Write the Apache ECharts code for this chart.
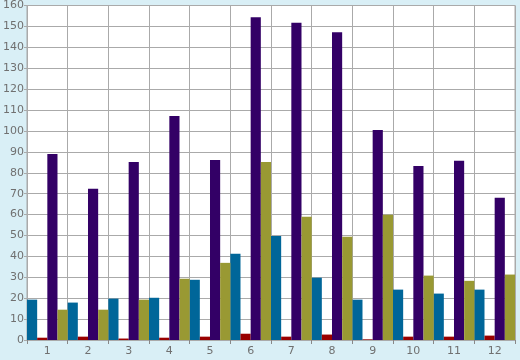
<!DOCTYPE html>
<html>
<head>
<meta charset="utf-8">
<script src="https://cdn.jsdelivr.net/npm/echarts@6/dist/echarts.min.js"></script>
<style>
html,body{margin:0;padding:0;background:#d9eff6;}
#c{width:520px;height:360px;}
</style>
</head>
<body>
<div id="c"></div>
<script>
var categories = ['1','2','3','4','5','6','7','8','9','10','11','12'];
var seriesBlue   = [19.3, 17.9, 19.8, 20.2, 28.8, 41.2, 49.8, 29.8, 19.3, 24.1, 22.2, 24.1];
var seriesRed    = [1.1, 1.6, 0.7, 1.1, 1.6, 3.0, 1.6, 2.6, 0.3, 1.6, 1.6, 2.1];
var seriesPurple = [89, 72.3, 85.2, 107.1, 86.1, 154.4, 151.8, 147.2, 100.4, 83.2, 85.7, 68];
var seriesOlive  = [14.5, 14.5, 19.3, 29.3, 36.9, 85.2, 58.9, 49.4, 59.9, 30.8, 28.3, 31.3];

var chart = echarts.init(document.getElementById('c'), null, {renderer:'canvas'});
var labelStyle = {color:'#707070', fontFamily:'DejaVu Sans', fontSize:11};
function bar(data, color){
  return {type:'bar', data:data, barGap:'0%', barCategoryGap:'0%',
          itemStyle:{color:color}, animation:false};
}
chart.setOption({
  backgroundColor:'#d9eff6',
  animation:false,
  grid:{left:26, top:5, right:5, bottom:20, show:true, backgroundColor:'#ffffff', borderColor:'#aaaaaa', borderWidth:1},
  xAxis:{type:'category', data:categories, boundaryGap:true,
    axisLine:{show:true, lineStyle:{color:'#aaaaaa'}},
    axisTick:{show:true, length:4, lineStyle:{color:'#888888'}},
    splitLine:{show:true, lineStyle:{color:'#aaaaaa', width:1}},
    axisLabel:Object.assign({margin:6}, labelStyle)},
  yAxis:{type:'value', min:0, max:160, interval:10,
    axisLine:{show:true, lineStyle:{color:'#aaaaaa'}},
    axisTick:{show:true, length:3, lineStyle:{color:'#aaaaaa'}},
    splitLine:{show:true, lineStyle:{color:'#aaaaaa', width:1}},
    axisLabel:Object.assign({margin:3}, labelStyle)},
  series:[bar(seriesBlue,'#006699'), bar(seriesRed,'#990000'), bar(seriesPurple,'#330066'), bar(seriesOlive,'#999933')]
});
</script>
</body>
</html>
